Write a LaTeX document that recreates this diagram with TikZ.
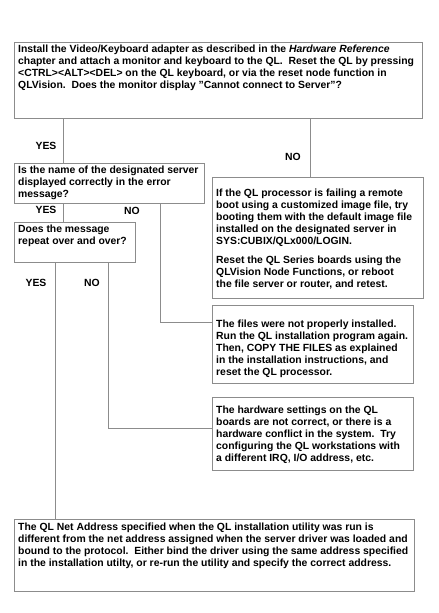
\documentclass[tikz,border=0pt]{standalone}
\usepackage{fontspec}
\setmainfont{Liberation Sans}
\begin{document}
\begin{tikzpicture}[x=1pt,y=-1pt,
  box/.style={draw=black!45, line width=0.6pt, inner sep=0pt, anchor=north west},
  txt/.style={inner sep=0pt, anchor=north west, align=left, font=\bfseries\fontsize{10.4}{12}\selectfont},
  lbl/.style={inner sep=0pt, font=\bfseries\fontsize{10.4}{12}\selectfont},
  conn/.style={draw=black!45, line width=0.6pt}]
\useasboundingbox (0,0) rectangle (439,613);
\fill[white] (0,0) rectangle (439,613);
% boxes
\node[box, minimum width=408pt, minimum height=76pt] (q1) at (14,42) {};
\node[box, minimum width=190pt, minimum height=40pt] (q2) at (14,163) {};
\node[box, minimum width=211pt, minimum height=121pt] (q3) at (212,177) {};
\node[box, minimum width=121pt, minimum height=40pt] (q4) at (14,222) {};
\node[box, minimum width=201pt, minimum height=78pt] (q5) at (212,305) {};
\node[box, minimum width=201pt, minimum height=73pt] (q6) at (212,397) {};
\node[box, minimum width=400pt, minimum height=72pt] (q7) at (14,519) {};
% texts
\node[txt] (t1) at ([shift={(4,3)}]q1.north west) {Install the Video/Keyboard adapter as described in the \textit{Hardware Reference}\\chapter and attach a monitor and keyboard to the QL.\ \ Reset the QL by pressing\\<CTRL><ALT><DEL> on the QL keyboard, or via the reset node function in\\QLVision.\ \ Does the monitor display "Cannot connect to Server"?};
\node[txt] (t2) at ([shift={(4,3)}]q2.north west) {Is the name of the designated server\\displayed correctly in the error\\message?};
\node[txt] (t3) at ([shift={(4,12)}]q3.north west) {If the QL processor is failing a remote\\boot using a customized image file, try\\booting them with the default image file\\installed on the designated server in\\SYS:CUBIX/QLx000/LOGIN.\\[7pt]Reset the QL Series boards using the\\QLVision Node Functions, or reboot\\the file server or router, and retest.};
\node[txt] (t4) at ([shift={(4,3)}]q4.north west) {Does the message\\repeat over and over?};
\node[txt] (t5) at ([shift={(4,15)}]q5.north west) {The files were not properly installed.\\Run the QL installation program again.\\Then, COPY THE FILES as explained\\in the installation instructions, and\\reset the QL processor.};
\node[txt] (t6) at ([shift={(4,9)}]q6.north west) {The hardware settings on the QL\\boards are not correct, or there is a\\hardware conflict in the system.\ \ Try\\configuring the QL workstations with\\a different IRQ, I/O address, etc.};
\node[txt] (t7) at ([shift={(4,4)}]q7.north west) {The QL Net Address specified when the QL installation utility was run is\\different from the net address assigned when the server driver was loaded and\\bound to the protocol.\ \ Either bind the driver using the same address specified\\in the installation utilty, or re-run the utility and specify the correct address.};
% labels
\node[lbl] (y1) at (46,146) {YES};
\node[lbl] (n1) at (293,157) {NO};
\node[lbl] (y2) at (46,210) {YES};
\node[lbl] (n2) at (132,211) {NO};
\node[lbl] (y3) at (36,283) {YES};
\node[lbl] (n3) at (92,283) {NO};
% connectors
\coordinate (xa) at (63,0);
\coordinate (xb) at (310,0);
\coordinate (xc) at (160,0);
\coordinate (xd) at (108,0);
\coordinate (xe) at (55,0);
\draw[conn] (xa |- q1.south) -- (xa |- q2.north);
\draw[conn] (xb |- q1.south) -- (xb |- q3.north);
\draw[conn] (xa |- q2.south) -- (xa |- q4.north);
\draw[conn] (xc |- q2.south) |- ([shift={(0,17)}]q5.north west);
\draw[conn] (xd |- q4.south) |- ([shift={(0,31)}]q6.north west);
\draw[conn] (xe |- q4.south) -- (xe |- q7.north);
\end{tikzpicture}
\end{document}
